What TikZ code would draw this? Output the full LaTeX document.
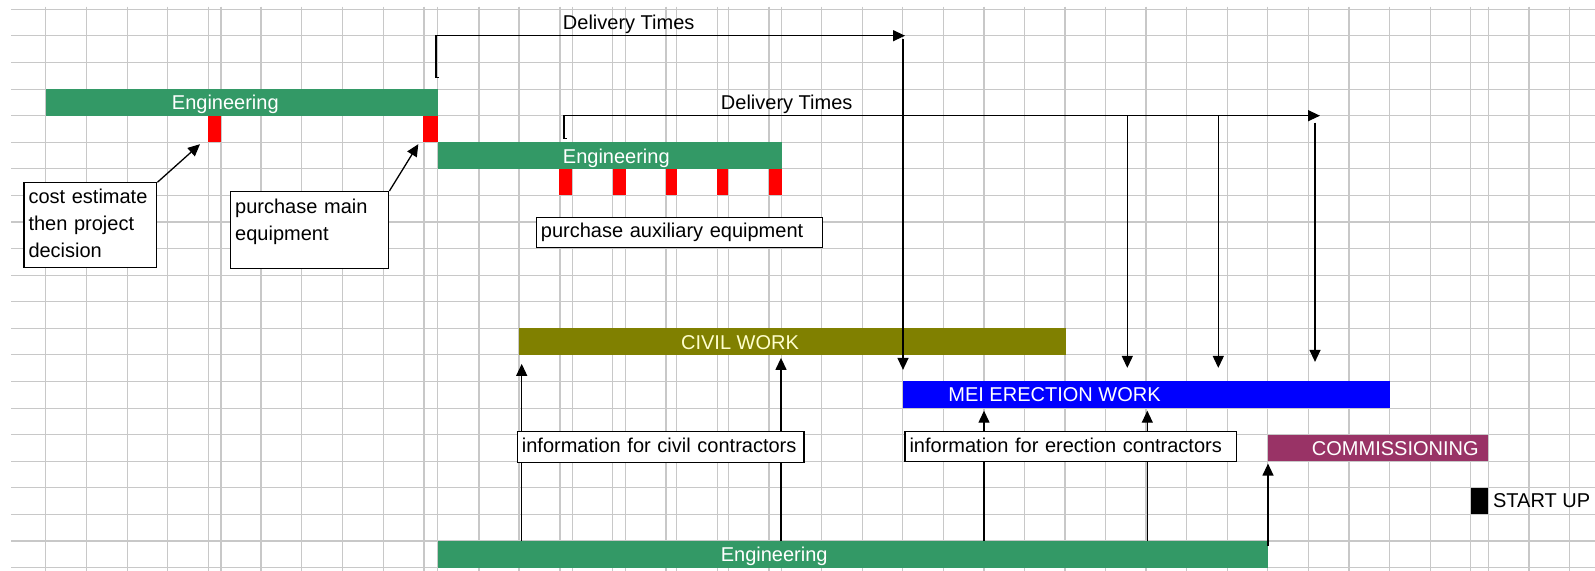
\documentclass[tikz,border=0pt]{standalone}
\usepackage{fontspec}
\setmainfont{Liberation Sans}
\usetikzlibrary{arrows.meta,positioning,fit}
\definecolor{seagreen}{HTML}{339966}
\definecolor{civilolive}{HTML}{808000}
\definecolor{meiblue}{HTML}{0000FF}
\definecolor{commplum}{HTML}{993366}
\definecolor{gridgrey}{HTML}{C8C8C8}
\definecolor{paleyellow}{HTML}{FFFFCC}

\begin{document}
\begin{tikzpicture}[x=0.5pt,y=-0.5pt,font=\fontsize{10}{13.35}\selectfont,
  gridline/.style={draw=gridgrey,line width=0.55pt},
  bar/.style={inner sep=0pt,outer sep=0pt,draw=none},
  redtick/.style={bar,fill=red},
  bartext/.style={anchor=base,inner sep=0pt,text=white},
  note/.style={draw=black,line width=0.6pt,fill=white,anchor=north west,align=left,
               inner xsep=2.3pt,inner ysep=0pt},
  arr/.style={-{Triangle[length=6pt,width=5.5pt]},line width=0.65pt}]
  \useasboundingbox (0,0) rectangle (1595,571);
  \fill[white] (0,0) rectangle (1595,571);

  \foreach \k in {0,...,21}
    \draw[gridline] (11,{9.3+26.585*\k}) -- (1595,{9.3+26.585*\k});
  \foreach \gx in {45.7,86.7,127.3,167.7,208.3,221,261,301.7,342.3,383.3,424,437.7,
                   479,519,560,572.3,612.7,625.7,666,676.7,717.3,728.3,769,781.7,
                   821.7,862.3,902.7,943.3,984,1024.3,1065,1105.7,1146,1186.7,
                   1227.3,1267.7,1308.3,1349,1389.6,1430.2,1470.8,1488.4,1529,1569.6}
    \draw[gridline] (\gx,6.7) -- (\gx,571);

  \node[bar,fill=seagreen,fit={(45.7,89.1) (437.7,115.6)}] (eng1) {};
  \node[redtick,fit={(208,115.6) (221,142.2)}] (red1) {};
  \node[redtick,fit={(423.3,115.6) (437.7,142.2)}] (red2) {};
  \node[bar,fill=seagreen,fit={(437.7,142.2) (781.7,168.8)}] (eng2) {};
  \foreach \a/\b [count=\i] in {559.3/572.3,612.5/625.7,665.5/676.7,717/728.3,768.7/781.7}
    \node[redtick,fit={(\a,168.8) (\b,195.4)}] (aux\i) {};
  \node[bar,fill=civilolive,fit={(518.5,328.3) (1066,354.9)}] (civil) {};
  \node[bar,fill=meiblue,fit={(902.5,381.5) (1389.8,408.1)}] (mei) {};
  \node[bar,fill=commplum,fit={(1268,434.7) (1488.4,461.2)}] (comm) {};
  \node[bar,fill=black,fit={(1470.8,487.8) (1488.4,514.4)}] (startup) {};
  \node[bar,fill=seagreen,fit={(437.7,541) (1268,567.6)}] (eng3) {};

  \coordinate (del1) at (436,77.7);
  \coordinate (del1end) at (905,35.7);
  \draw[arr] ([xshift=1.5pt]del1) -- (del1) |- (del1end);
  \coordinate (drop0) at (903,39);
  \draw[arr,shorten >=5.8pt] (drop0) -- (drop0 |- mei.north);
  \coordinate (del2) at (564,138.3);
  \coordinate (del2end) at (1320,115.7);
  \draw[arr] ([xshift=1.3pt]del2) -- (del2) |- (del2end);
  \foreach \dx [count=\i] in {1127.3,1218.3} {
    \coordinate (drop\i) at (\dx,115.7);
    \draw[arr,shorten >=6.8pt] (drop\i) -- (drop\i |- mei.north);
  }
  \coordinate (drop3) at (1315,122.7);
  \draw[arr,shorten >=9.8pt] (drop3) -- (drop3 |- mei.north);

  \foreach \ux/\gap [count=\i] in {521.7/4.5pt,781/1.5pt} {
    \coordinate (civup\i) at (\ux,540);
    \draw[arr,shorten >=\gap] (civup\i |- eng3.north) -- (civup\i |- civil.south);
  }
  \foreach \ux [count=\i] in {984,1147.3} {
    \coordinate (meiup\i) at (\ux,540);
    \draw[arr,shorten >=1.3pt] (meiup\i |- eng3.north) -- (meiup\i |- mei.south);
  }
  \coordinate (commup) at (1268,546);
  \draw[arr,shorten >=1.2pt] (commup) -- (commup |- comm.south);

  \node[note,text width=61.85pt,text height=10.5pt,text depth=31.7pt] (cost) at (23.3,182.3)
       {cost estimate\\then project\\decision};
  \node[note,text width=74.5pt,text height=11pt,text depth=27.65pt] (main) at (230,191)
       {purchase main\\equipment};
  \node[note,text width=138.4pt,text height=10pt,text depth=5pt] (auxnote) at (535.7,217.3)
       {purchase auxiliary equipment};
  \node[note,text width=138.7pt,text height=10.65pt,text depth=4.7pt] (civilnote) at (516.7,431)
       {information for civil contractors};
  \node[note,text width=161.1pt,text height=10.65pt,text depth=4.35pt] (meinote) at (904.3,431)
       {information for erection contractors};
  \draw[arr] (cost.north east) -- ([shift={(-8,2)}]red1.south west);
  \draw[arr] (main.north east) -- ([shift={(-5,2)}]red2.south west);

  \node[bartext] at (225.3,110) {Engineering};
  \node[bartext] at (616.3,163.3) {Engineering};
  \node[bartext] at (774.2,561.7) {Engineering};
  \node[bartext,text=paleyellow] at (740,350) {CIVIL WORK};
  \node[bartext] at (1054.5,401.7) {MEI ERECTION WORK};
  \node[bartext] at (1395.3,455) {COMMISSIONING};
  \node[right=2.15pt of startup,inner sep=0pt] (startuptext) {START UP};
  \node[anchor=base,inner sep=0pt] at (628.7,30) {Delivery Times};
  \node[anchor=base,inner sep=0pt] at (786.7,110) {Delivery Times};
\end{tikzpicture}
\end{document}
